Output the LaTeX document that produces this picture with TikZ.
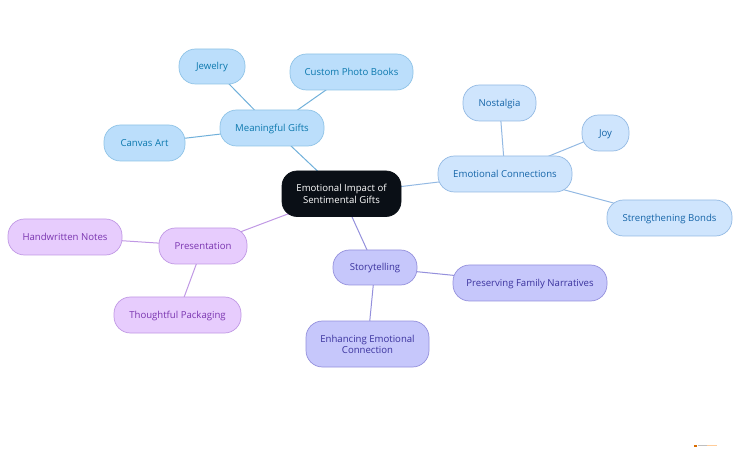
\documentclass[tikz,border=0pt]{standalone}
\usepackage{fontspec}
\setmainfont{Open Sans}
\usetikzlibrary{backgrounds}
\definecolor{bluefill}{HTML}{BBDEFB}
\definecolor{blueline}{HTML}{8FC3E6}
\definecolor{bluelinkc}{HTML}{70B0DA}
\definecolor{bluetext}{HTML}{0B78AE}
\definecolor{paleblue}{HTML}{CFE5FD}
\definecolor{palebluetext}{HTML}{1565A8}
\definecolor{paleline}{HTML}{93B9E3}
\definecolor{violetfill}{HTML}{C6C7FB}
\definecolor{violetline}{HTML}{9490DC}
\definecolor{violettext}{HTML}{3B339E}
\definecolor{pinkfill}{HTML}{E7CCFD}
\definecolor{pinkline}{HTML}{C098E4}
\definecolor{pinktext}{HTML}{7A35B0}
\definecolor{rootfill}{HTML}{0A0F16}
\newcommand{\twolines}[2]{\raisebox{-0.6pt}[0pt][0pt]{\begin{tabular}{@{}c@{}}#1\\#2\end{tabular}}}
\tikzset{
  box/.style={draw, line width=0.7pt, rounded corners=16.5pt, inner sep=0pt, align=center, font=\fontsize{9.6}{11.5}\selectfont, execute at begin node={\rule[-2.2pt]{0pt}{11.2pt}}},
  rootbox/.style={box, fill=rootfill, draw=rootfill, text=white, minimum width=119pt, minimum height=45.5pt, rounded corners=15pt},
  bluebox/.style={box, fill=bluefill, draw=blueline, text=bluetext},
  palebox/.style={box, fill=paleblue, draw=paleline, text=palebluetext},
  violetbox/.style={box, fill=violetfill, draw=violetline, text=violettext},
  pinkbox/.style={box, fill=pinkfill, draw=pinkline, text=pinktext},
  bluelink/.style={draw=bluelinkc, line width=1pt},
  palelink/.style={draw=paleline, line width=1pt},
  violetlink/.style={draw=violetline, line width=1pt},
  pinklink/.style={draw=pinkline, line width=1pt},
  wh/.style 2 args={minimum width=#1pt, minimum height=#2pt},
}
\begin{document}
\begin{tikzpicture}[x=1pt,y=-1pt]
\useasboundingbox (0,0) rectangle (740,468);
\node[rootbox] (root) at (341.5,193.75) {\twolines{Emotional Impact of}{Sentimental Gifts}};
\node[bluebox,wh={104}{36}] (gifts) at (272,128) {Meaningful Gifts};
\node[bluebox,wh={66}{35}] (jewelry) at (212,66.5) {Jewelry};
\node[bluebox,wh={123}{36}] (books) at (351.5,72) {Custom Photo Books};
\node[bluebox,wh={81}{36}] (canvas) at (144.5,143) {Canvas Art};
\node[palebox,wh={134}{36}] (emo) at (505,174) {Emotional Connections};
\node[palebox,wh={73}{36}] (nostalgia) at (499.5,103) {Nostalgia};
\node[palebox,wh={47}{36}] (joy) at (605.5,133) {Joy};
\node[palebox,wh={125}{36}] (bonds) at (669.5,218) {Strengthening Bonds};
\node[pinkbox,wh={88}{36}] (pres) at (203,246) {Presentation};
\node[pinkbox,wh={114}{36}] (notes) at (65,237) {Handwritten Notes};
\node[pinkbox,wh={127}{36}] (pack) at (177.5,315) {Thoughtful Packaging};
\node[violetbox,wh={84}{35}] (story) at (375,267.5) {Storytelling};
\node[violetbox,wh={154}{36}] (family) at (530,283) {Preserving Family Narratives};
\node[violetbox,wh={123}{46}] (enh) at (367.5,344) {\twolines{Enhancing Emotional}{Connection}};
\begin{scope}[on background layer]
\draw[bluelink] (root.center) -- (gifts.center);
\draw[bluelink] (gifts.center) -- (jewelry.center);
\draw[bluelink] (gifts.center) -- (books.center);
\draw[bluelink] (gifts.center) -- (canvas.center);
\draw[palelink] (root.center) -- (emo.center);
\draw[palelink] (emo.center) -- (nostalgia.center);
\draw[palelink] (emo.center) -- (joy.center);
\draw[palelink] (emo.center) -- (bonds.center);
\draw[pinklink] (root.center) -- (pres.center);
\draw[pinklink] (pres.center) -- (notes.center);
\draw[pinklink] (pres.center) -- (pack.center);
\draw[violetlink] (root.center) -- (story.center);
\draw[violetlink] (story.center) -- (family.center);
\draw[violetlink] (story.center) -- (enh.center);
\end{scope}
\fill[orange!85!black] (694,444.5) rectangle (696.5,447);
\fill[black!25] (697.5,445) rectangle (707,446.4);
\fill[orange!40] (707,445) rectangle (717,446.4);
\end{tikzpicture}
\end{document}
